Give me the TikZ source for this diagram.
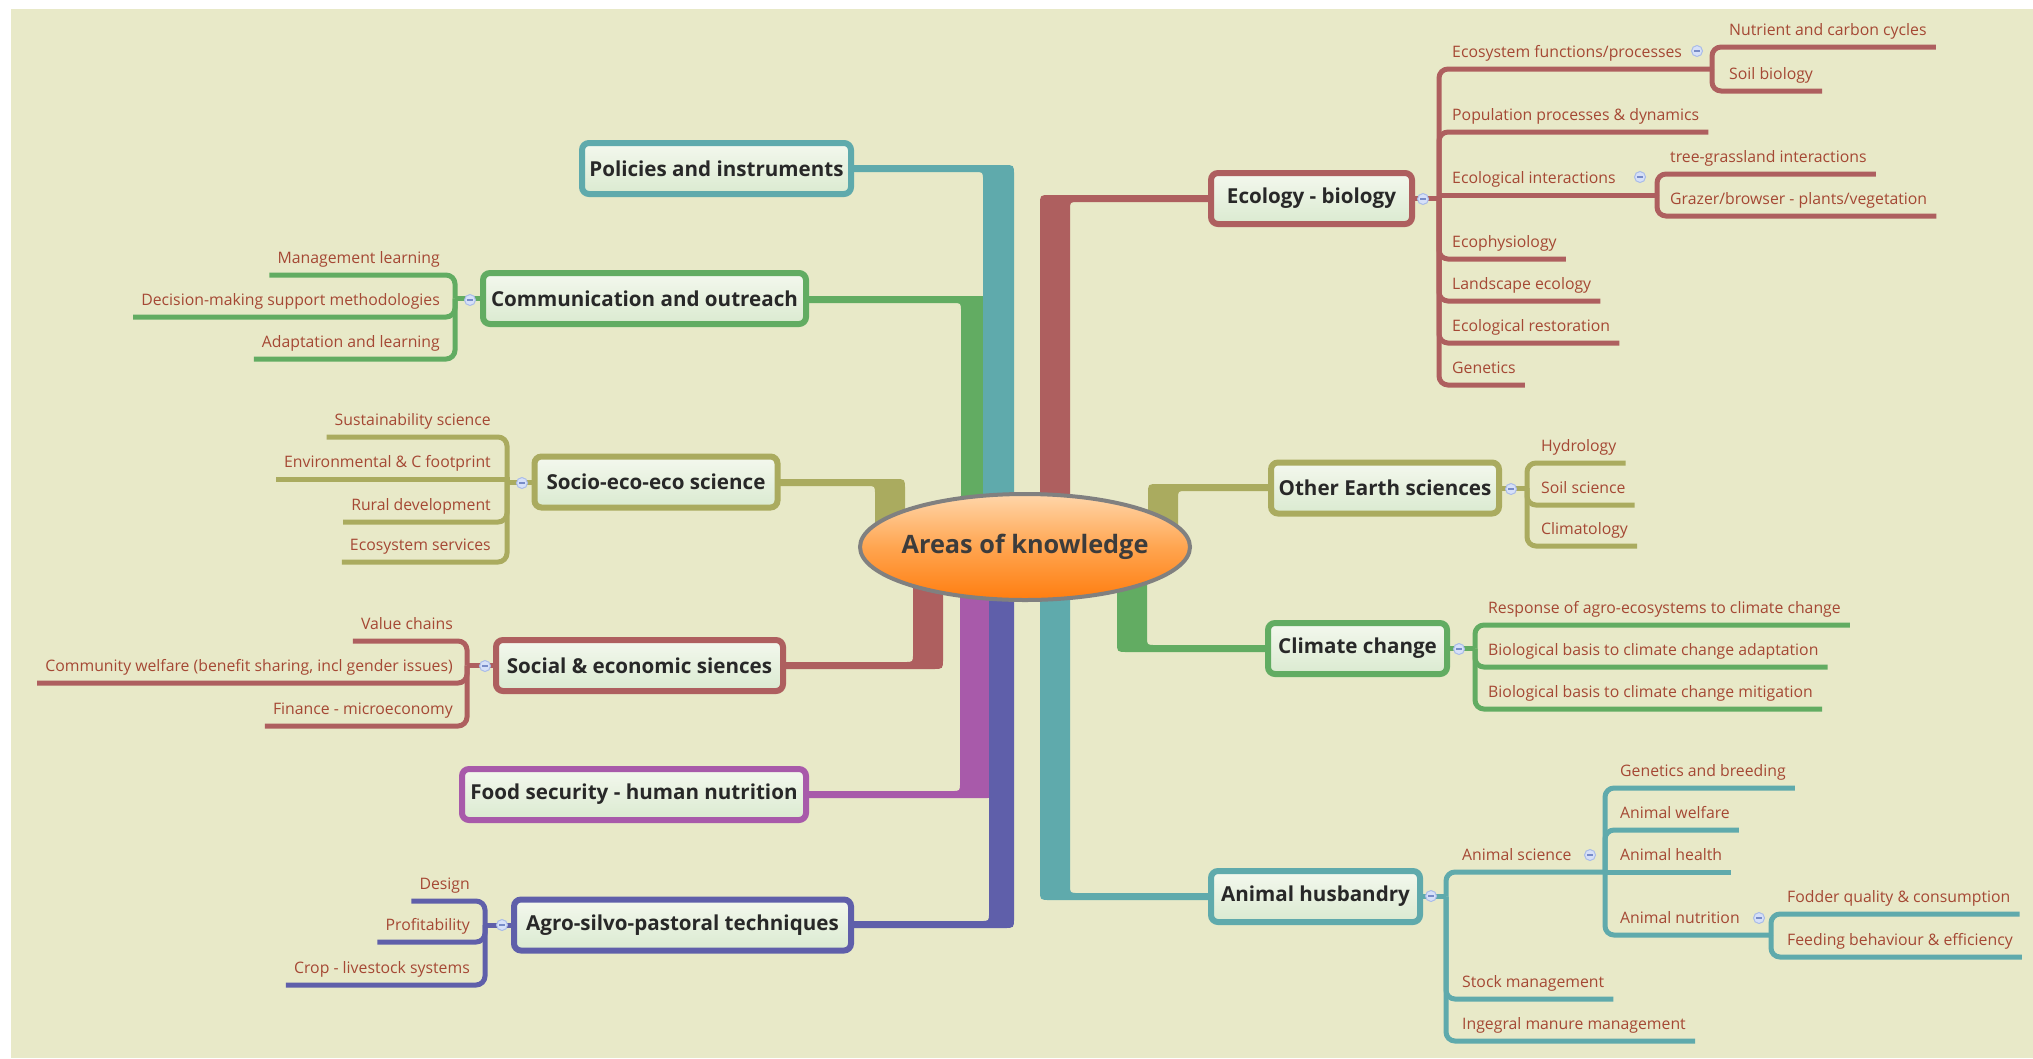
\documentclass[tikz,border=0pt]{standalone}
\usepackage{fontspec}
\setmainfont{Open Sans}
\usetikzlibrary{calc,shapes.geometric}
\pgfdeclarelayer{back}\pgfdeclarelayer{bg}
\pgfsetlayers{back,bg,main}
\definecolor{redc}{RGB}{174,95,95}
\definecolor{tealc}{RGB}{95,170,172}
\definecolor{greenc}{RGB}{98,172,98}
\definecolor{olivec}{RGB}{170,171,95}
\definecolor{purplec}{RGB}{168,90,170}
\definecolor{bluec}{RGB}{95,95,170}
\definecolor{bgc}{RGB}{232,233,200}
\definecolor{subtext}{RGB}{165,72,52}
\definecolor{topictext}{RGB}{40,40,40}
\definecolor{boxtop}{RGB}{244,248,238}
\definecolor{boxbot}{RGB}{218,234,208}
\definecolor{cfill}{RGB}{214,224,248}
\definecolor{cbord}{RGB}{170,188,232}
\definecolor{cminus}{RGB}{120,140,200}
\definecolor{ellborder}{RGB}{128,128,128}
\definecolor{elltop}{RGB}{255,214,170}
\definecolor{ellmid}{RGB}{255,165,80}
\definecolor{ellbot}{RGB}{255,125,15}
\definecolor{centertext}{RGB}{60,60,60}
\tikzset{
 topic/.style={draw=#1, line width=6pt, rounded corners=7pt, top color=boxtop, bottom color=boxbot,
   font=\bfseries\fontsize{20.6}{24}\selectfont, text=topictext, minimum height=51pt, inner sep=0pt},
 sub/.style={font=\fontsize{15.8}{18}\selectfont, text=subtext, inner sep=0pt},
 sline/.style={draw=#1, line width=5pt},
 collapse/.style={circle, draw=cbord, fill=cfill, line width=1pt, minimum size=11pt, inner sep=0pt},
}
% right-side child with rounded bracket
\newcommand{\Rleaf}[6]{%
 \node[sub,anchor=base west] (#1) at (#4,{#3-12}) {#5};
 \begin{pgfonlayer}{bg}\draw[sline=#6,rounded corners=9pt] (#2) -- (#2 |- 0,#3) -- ($(#1.base east)+(9,12)$);\end{pgfonlayer}}
\newcommand{\RleafS}[6]{%
 \node[sub,anchor=base west] (#1) at (#4,{#3-12}) {#5};
 \begin{pgfonlayer}{bg}\draw[sline=#6] (#2) -- (#2 |- 0,#3) -- ($(#1.base east)+(9,12)$);\end{pgfonlayer}}
\newcommand{\Rmid}[7]{%
 \node[sub,anchor=base west] (#1) at (#4,{#3-12}) {#5};
 \coordinate (#1B) at (#7,#3);
 \begin{pgfonlayer}{bg}\draw[sline=#6,rounded corners=9pt] (#2) -- (#2 |- 0,#3) -- (#1B);\end{pgfonlayer}}
\newcommand{\RmidS}[7]{%
 \node[sub,anchor=base west] (#1) at (#4,{#3-12}) {#5};
 \coordinate (#1B) at (#7,#3);
 \begin{pgfonlayer}{bg}\draw[sline=#6] (#2) -- (#2 |- 0,#3) -- (#1B);\end{pgfonlayer}}
\newcommand{\Lleaf}[6]{%
 \node[sub,anchor=base east] (#1) at (#4,{#3-12}) {#5};
 \begin{pgfonlayer}{bg}\draw[sline=#6,rounded corners=9pt] (#2) -- (#2 |- 0,#3) -- ($(#1.base west)+(-8,12)$);\end{pgfonlayer}}
\newcommand{\LleafS}[6]{%
 \node[sub,anchor=base east] (#1) at (#4,{#3-12}) {#5};
 \begin{pgfonlayer}{bg}\draw[sline=#6] (#2) -- (#2 |- 0,#3) -- ($(#1.base west)+(-8,12)$);\end{pgfonlayer}}
% thick elbow band from a topic node to the centre
\newcommand{\band}[9]{\fill[#1] (#2 |- 0,#5) -- ({#3+(#8)*10},#5) .. controls (#3,#5) .. (#3,{#5+(#9)*10}) -- (#3,#7) -- (#4,#7) -- (#4,{#6+(#9)*8}) .. controls (#4,#6) .. ({#4+(#8)*8},#6) -- (#2 |- 0,#6) -- cycle;}
\newcommand{\minus}{\textcolor{cminus}{\rule{6pt}{1.3pt}}}

\begin{document}
\begin{tikzpicture}[x=1pt,y=-1pt]
\useasboundingbox (0,0) rectangle (2033,1058);
\begin{pgfonlayer}{back}
 \fill[white] (0,0) rectangle (2033,1058);
 \fill[bgc] (11,9) rectangle (2033,1058);
\end{pgfonlayer}

% centre
\node[ellipse, draw=ellborder, line width=4pt, minimum width=330pt, minimum height=106pt,
  top color=elltop, bottom color=ellbot, middle color=ellmid, inner sep=0pt,
  label={[font=\bfseries\fontsize{25.3}{28}\selectfont, text=centertext]center:Areas of knowledge}] (center) at (1025,547) {};

% topics
\node[topic=tealc, minimum width=269pt] (pol) at (716.5,168.5) {Policies and instruments};
\node[topic=greenc, minimum width=323pt] (comm) at (644.5,298.5) {Communication and outreach};
\node[topic=olivec, minimum width=243pt] (socio) at (656,482) {Socio-eco-eco science};
\node[topic=redc, minimum width=287pt] (social) at (639.5,665.5) {Social \& economic siences};
\node[topic=purplec, minimum width=344pt] (food) at (634,794.5) {Food security - human nutrition};
\node[topic=bluec, minimum width=337pt] (agro) at (682.5,925) {Agro-silvo-pastoral techniques};
\node[topic=redc, minimum width=201pt] (eco) at (1311.5,198.5) {Ecology - biology};
\node[topic=olivec, minimum width=228pt] (earth) at (1385,488) {Other Earth sciences};
\node[topic=greenc, minimum width=179pt] (clim) at (1357.5,648.5) {Climate change};
\node[topic=tealc, minimum width=209pt] (ani) at (1315.5,896.5) {Animal husbandry};

% main bands
\begin{pgfonlayer}{bg}
 \band{greenc}{comm}{990}{961}{296}{303}{530}{-1}{1}
 \band{tealc}{pol}{1014}{983}{165}{172}{530}{-1}{1}
 \band{olivec}{socio}{905}{875}{479}{486}{535}{-1}{1}
 \band{redc}{social}{943}{913}{669}{662}{560}{-1}{-1}
 \band{purplec}{food}{995}{960}{798}{791}{560}{-1}{-1}
 \band{bluec}{agro}{1014}{989}{928}{921}{560}{-1}{-1}
 \band{redc}{eco}{1040}{1070}{195}{202}{530}{1}{1}
 \band{olivec}{earth}{1148}{1178}{484}{491}{535}{1}{1}
 \band{greenc}{clim}{1117}{1147}{652}{645}{560}{1}{-1}
 \band{tealc}{ani}{1040}{1070}{900}{893}{560}{1}{-1}
\end{pgfonlayer}

% bracket points
\coordinate (ecoB) at (1439,198.5);
\coordinate (earthB) at (1527,488);
\coordinate (climB) at (1475,648.5);
\coordinate (aniB) at (1446,896.5);
\coordinate (commB) at (455,298.5);
\coordinate (socioB) at (507,482);
\coordinate (socialB) at (467,665.5);
\coordinate (agroB) at (485,925);
\begin{pgfonlayer}{bg}
 \draw[sline=redc] (eco.east) -- (ecoB);
 \draw[sline=olivec] (earth.east) -- (earthB);
 \draw[sline=greenc] (clim.east) -- (climB);
 \draw[sline=tealc] (ani.east) -- (aniB);
 \draw[sline=greenc] (comm.west) -- (commB);
 \draw[sline=olivec] (socio.west) -- (socioB);
 \draw[sline=redc] (social.west) -- (socialB);
 \draw[sline=bluec] (agro.west) -- (agroB);
\end{pgfonlayer}

% Ecology - biology
\Rmid{ec1}{ecoB}{69}{1452}{Ecosystem functions/processes}{redc}{1712}
\Rleaf{ec11}{ec1B}{47}{1729}{Nutrient and carbon cycles}{redc}
\Rleaf{ec12}{ec1B}{91}{1729}{Soil biology}{redc}
\Rleaf{ec2}{ecoB}{132}{1452}{Population processes \& dynamics}{redc}
\RmidS{ec3}{ecoB}{195}{1452}{Ecological interactions}{redc}{1657}
\Rleaf{ec31}{ec3B}{174}{1670}{tree-grassland interactions}{redc}
\Rleaf{ec32}{ec3B}{216}{1670}{Grazer/browser - plants/vegetation}{redc}
\Rleaf{ec4}{ecoB}{259}{1452}{Ecophysiology}{redc}
\Rleaf{ec5}{ecoB}{301}{1452}{Landscape ecology}{redc}
\Rleaf{ec6}{ecoB}{343}{1452}{Ecological restoration}{redc}
\Rleaf{ec7}{ecoB}{385}{1452}{Genetics}{redc}

% Other Earth sciences
\Rleaf{oe1}{earthB}{463}{1541}{Hydrology}{olivec}
\Rleaf{oe2}{earthB}{505}{1541}{Soil science}{olivec}
\Rleaf{oe3}{earthB}{546}{1541}{Climatology}{olivec}

% Climate change
\Rleaf{cc1}{climB}{625}{1488}{Response of agro-ecosystems to climate change}{greenc}
\Rleaf{cc2}{climB}{667}{1488}{Biological basis to climate change adaptation}{greenc}
\Rleaf{cc3}{climB}{709}{1488}{Biological basis to climate change mitigation}{greenc}

% Animal husbandry
\Rmid{as}{aniB}{872}{1462}{Animal science}{tealc}{1605}
\Rleaf{as1}{asB}{788}{1620}{Genetics and breeding}{tealc}
\Rleaf{as2}{asB}{830}{1620}{Animal welfare}{tealc}
\RleafS{as3}{asB}{872}{1620}{Animal health}{tealc}
\Rmid{an}{asB}{935}{1620}{Animal nutrition}{tealc}{1771}
\Rleaf{an1}{anB}{914}{1787}{Fodder quality \& consumption}{tealc}
\Rleaf{an2}{anB}{957}{1787}{Feeding behaviour \& efficiency}{tealc}
\Rleaf{ah2}{aniB}{999}{1462}{Stock management}{tealc}
\Rleaf{ah3}{aniB}{1041}{1462}{Ingegral manure management}{tealc}

% Communication and outreach
\Lleaf{co1}{commB}{275}{440}{Management learning}{greenc}
\Lleaf{co2}{commB}{317}{440}{Decision-making support methodologies}{greenc}
\Lleaf{co3}{commB}{359}{440}{Adaptation and learning}{greenc}

% Socio-eco-eco science
\Lleaf{se1}{socioB}{437}{491}{Sustainability science}{olivec}
\LleafS{se2}{socioB}{479}{491}{Environmental \& C footprint}{olivec}
\Lleaf{se3}{socioB}{522}{491}{Rural development}{olivec}
\Lleaf{se4}{socioB}{562}{491}{Ecosystem services}{olivec}

% Social & economic siences
\Lleaf{sc1}{socialB}{641}{453}{Value chains}{redc}
\Lleaf{sc2}{socialB}{683}{453}{Community welfare (benefit sharing, incl gender issues)}{redc}
\Lleaf{sc3}{socialB}{726}{453}{Finance - microeconomy}{redc}

% Agro-silvo-pastoral techniques
\Lleaf{ag1}{agroB}{901}{470}{Design}{bluec}
\Lleaf{ag2}{agroB}{942}{470}{Profitability}{bluec}
\Lleaf{ag3}{agroB}{985}{470}{Crop - livestock systems}{bluec}

% collapse markers
\node[collapse] (k1) at (1423,199) {\minus};
\node[collapse] (k2) at (1511,489) {\minus};
\node[collapse] (k3) at (1459,649) {\minus};
\node[collapse] (k4) at (1431,896) {\minus};
\node[collapse] (k5) at (470,300) {\minus};
\node[collapse] (k6) at (522,483) {\minus};
\node[collapse] (k7) at (485,666) {\minus};
\node[collapse] (k8) at (502,925) {\minus};
\node[collapse] (k9) at (1697,51) {\minus};
\node[collapse] (k10) at (1640,177) {\minus};
\node[collapse] (k11) at (1590,855) {\minus};
\node[collapse] (k12) at (1759,918) {\minus};
\end{tikzpicture}
\end{document}
